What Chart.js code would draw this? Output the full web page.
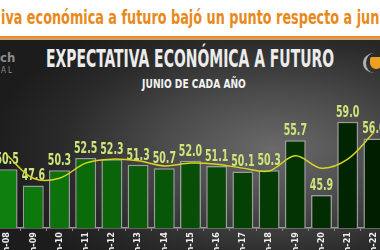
<!DOCTYPE html>
<html>
<head>
<meta charset="utf-8">
<script src="https://cdn.jsdelivr.net/npm/chart.js@4.4.0/dist/chart.umd.min.js"></script>
<style>
  html, body { margin: 0; padding: 0; }
  body {
    width: 380px; height: 250px; overflow: hidden; position: relative; background: #fff;
    font-family: "DejaVu Sans Condensed", "Liberation Sans", sans-serif;
  }
  #headline {
    position: absolute; left: 1px; top: 6px; white-space: nowrap;
    color: #e8891c; font-weight: bold; font-size: 19px;
    transform-origin: left top; transform: scaleX(0.75);
  }
  #rule { position: absolute; left: 0; top: 36px; width: 380px; height: 2px; background: #e88d25; }
  #panel {
    position: absolute; left: 0; top: 38px; width: 380px; height: 212px;
    border-top: 2px solid #c8a275; box-sizing: border-box;
    background: radial-gradient(ellipse 75% 70% at 72% 52%, #6a6a6a 0%, #4a4a4a 40%, #2a2a2a 75%, #1c1c1c 100%);
  }
  .center { position: absolute; left: -110px; width: 600px; text-align: center; white-space: nowrap; }
  #title { top: 44px; color: #ececec; font-weight: bold; font-size: 25px; transform: scaleX(0.62); }
  #subtitle { top: 76px; color: #f2f2f2; font-weight: bold; font-size: 13px; transform: scaleX(0.78); left: -106px; }
  #logo1 { position: absolute; left: 0; top: 50px; color: #8c8c8c; font-weight: bold; font-size: 13px; }
  #logo2 { position: absolute; left: 1px; top: 66px; color: #8c8c8c; font-size: 8px; letter-spacing: 2px; }
  #icon {
    position: absolute; left: 363px; top: 53px; width: 22px; height: 20px; border-radius: 50%;
    border-left: 3px solid #b0b0b0; box-sizing: border-box;
  }
  #icon div { position: absolute; left: 4px; top: 4px; width: 12px; height: 12px; background: #f0a020; border-radius: 2px 2px 6px 6px; }
  #box { position: absolute; left: -6px; top: 40px; width: 393px; height: 230px; }
</style>
</head>
<body>
<div id="headline">iva económica a futuro bajó un punto respecto a junio</div>
<div id="rule"></div>
<div id="panel"></div>
<div id="logo1">ch</div>
<div id="logo2">AL</div>
<div id="icon"><div></div></div>
<div id="title" class="center">EXPECTATIVA ECONÓMICA A FUTURO</div>
<div id="subtitle" class="center">JUNIO DE CADA AÑO</div>
<div id="box"><canvas id="chart"></canvas></div>
<script>
const categories = ['jun-08', 'jun-09', 'jun-10', 'jun-11', 'jun-12', 'jun-13', 'jun-14', 'jun-15',
                    'jun-16', 'jun-17', 'jun-18', 'jun-19', 'jun-20', 'jun-21', 'jun-22'];
const expectativa = [50.5, 47.6, 50.3, 52.5, 52.3, 51.3, 50.7, 52.0, 51.1, 50.1, 50.3, 55.7, 45.9, 59.0, 56.0];
const tendencia = [53.0, 48.9, 48.9, 51.6, 52.3, 52.0, 51.1, 51.6, 51.4, 50.7, 50.2, 52.9, 50.7, 52.3, 57.1];

const narrow = '"DejaVu Sans Condensed", "Liberation Sans", sans-serif';

// values written over each bar, squeezed to look like the condensed original font
const valueLabels = {
  id: 'valueLabels',
  afterDatasetDraw(chart, args) {
    if (args.index !== 0) return;
    const ctx = chart.ctx;
    ctx.save();
    ctx.fillStyle = '#cfe47a';
    ctx.font = 'bold 15px ' + narrow;
    ctx.textAlign = 'center';
    ctx.textBaseline = 'alphabetic';
    args.meta.data.forEach((bar, i) => {
      ctx.save();
      ctx.translate(bar.x, bar.y - 5);
      ctx.scale(0.7, 1);
      ctx.fillText(expectativa[i].toFixed(1), 0, 0);
      ctx.restore();
    });
    ctx.restore();
  }
};

new Chart(document.getElementById('chart'), {
  data: {
    labels: categories,
    datasets: [{
      type: 'bar',
      data: expectativa,
      order: 1,
      backgroundColor: (c) => {
        const t = c.dataIndex / (categories.length - 1);
        return `rgb(${Math.round(14 * (1 - t))}, ${Math.round(128 - 98 * t)}, ${Math.round(14 * (1 - t))})`;
      },
      borderColor: '#9c9c9c',
      borderWidth: 1.5,
      barPercentage: 0.8,
      categoryPercentage: 1.0
    }, {
      type: 'line',
      data: tendencia,
      order: 0,
      borderColor: '#d6d622',
      borderWidth: 1.5,
      pointRadius: 0,
      tension: 0.35
    }]
  },
  options: {
    responsive: true,
    maintainAspectRatio: false,
    animation: false,
    layout: { padding: 0 },
    plugins: { legend: { display: false }, tooltip: { enabled: false } },
    scales: {
      x: {
        afterFit: (scale) => { scale.height = 42; },
        grid: { drawOnChartArea: false, drawTicks: true, tickLength: 3, color: '#8a8a8a' },
        border: { color: '#9a9a9a', width: 1.5 },
        ticks: {
          color: '#eeeeee', minRotation: 90, maxRotation: 90, padding: 1,
          font: { family: narrow, size: 9, weight: 'bold' }
        }
      },
      y: { display: false, min: 40, max: 73.6 }
    }
  },
  plugins: [valueLabels]
});
</script>
</body>
</html>
